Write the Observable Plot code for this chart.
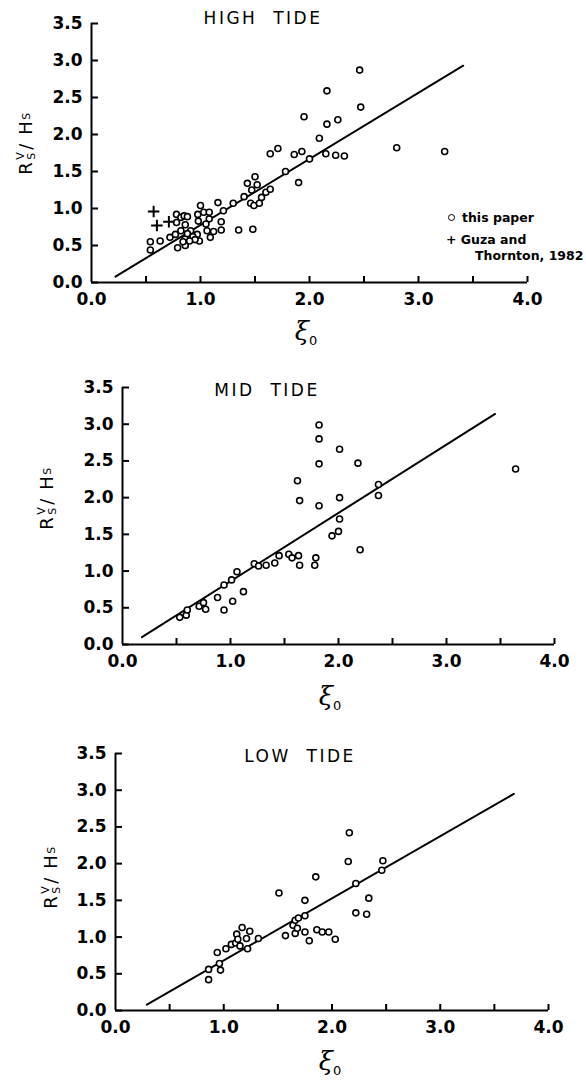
<!DOCTYPE html>
<html><head><meta charset="utf-8">
<script src="https://cdn.jsdelivr.net/npm/d3@7"></script>
<script src="https://cdn.jsdelivr.net/npm/@observablehq/plot@0.6"></script>
<style>
body{margin:0;background:#fff;}
#page{position:relative;width:586px;height:1083px;overflow:hidden;font-family:"DejaVu Sans",sans-serif;color:#000;background:#fff;}
.panel{position:absolute;left:0;}
.title{position:absolute;font-size:17px;letter-spacing:2.5px;white-space:pre;transform:translateX(-50%);line-height:1;}
.ylab{position:absolute;transform:translate(-50%,-50%) rotate(-90deg);font-size:18px;white-space:nowrap;line-height:1;letter-spacing:1.5px;display:flex;align-items:center;}
.st{display:inline-flex;flex-direction:column;font-size:11px;line-height:1;margin:0 1px;}
.ylab sub{font-size:11px;vertical-align:-5px;}
.xlab{position:absolute;transform:translateX(-50%);font-family:"DejaVu Serif",serif;font-style:italic;font-size:26px;line-height:1;white-space:nowrap;}
.xlab sub{font-style:normal;font-family:"DejaVu Sans",sans-serif;font-size:13px;vertical-align:-5px;}
.leg{position:absolute;font-size:12.5px;font-weight:bold;white-space:nowrap;line-height:1;}
.circ{display:inline-block;width:5px;height:5px;border:1.6px solid #000;border-radius:50%;vertical-align:1px;margin-right:7px;}
</style>
</head><body>
<div id="page">
  <div class="title" style="left:263px;top:10px">HIGH  TIDE</div>
  <div class="title" style="left:267px;top:382px">MID  TIDE</div>
  <div class="title" style="left:300px;top:748px">LOW  TIDE</div>
  <div class="ylab" style="left:26px;top:143px">R<span class="st"><span>V</span><span>S</span></span>/ H<sub>S</sub></div>
  <div class="ylab" style="left:47px;top:498px">R<span class="st"><span>V</span><span>S</span></span>/ H<sub>S</sub></div>
  <div class="ylab" style="left:51px;top:877px">R<span class="st"><span>V</span><span>S</span></span>/ H<sub>S</sub></div>
  <div class="xlab" style="left:306px;top:318px">ξ<sub>0</sub></div>
  <div class="xlab" style="left:330px;top:683px">ξ<sub>0</sub></div>
  <div class="xlab" style="left:330px;top:1048px">ξ<sub>0</sub></div>
  <div class="leg" style="left:448px;top:212px"><span class="circ"></span>this paper</div>
  <div class="leg" style="left:446px;top:234px">+ Guza and</div>
  <div class="leg" style="left:475px;top:250px">Thornton, 1982</div>
</div>
<script>
// Tick values
const xTicks = [0.5, 1, 1.5, 2, 2.5, 3, 3.5, 4];
const xLabels = [0, 1, 2, 3, 4];
const yTicks = [0, 0.5, 1, 1.5, 2, 2.5, 3, 3.5];

// HIGH TIDE — this paper
const highX = [0.54,0.54,0.63,0.72,0.78,0.78,0.82,0.85,0.88,0.79,0.77,0.86,0.86,0.86,0.91,0.97,0.99,1.00,0.975,0.98,1.03,1.08,1.08,1.05,1.09,1.06,1.12,1.16,1.21,1.19,1.19,1.30,1.35,1.40,1.43,1.46,1.48,1.47,1.50,1.49,1.52,1.54,1.56,1.60,1.64,1.64,1.71,1.78,1.86,1.90,2.46,2.16,2.47,1.95,2.16,2.26,2.09,1.93,2.00,2.15,2.24,2.32,2.80,3.24,0.88,0.93,0.95,0.90,0.84,0.82];
const highY = [0.55,0.44,0.56,0.61,0.92,0.81,0.88,0.90,0.89,0.47,0.65,0.78,0.59,0.50,0.70,0.65,0.56,1.04,0.92,0.83,0.95,0.95,0.86,0.79,0.61,0.70,0.69,1.08,0.97,0.82,0.71,1.07,0.71,1.16,1.34,1.07,0.72,1.25,1.43,1.04,1.32,1.07,1.15,1.22,1.26,1.74,1.81,1.50,1.73,1.35,2.87,2.59,2.37,2.24,2.14,2.20,1.95,1.77,1.67,1.74,1.72,1.71,1.82,1.77,0.66,0.62,0.58,0.56,0.55,0.70];
// HIGH TIDE — Guza and Thornton, 1982
const guzaX = [0.57, 0.60, 0.71];
const guzaY = [0.96, 0.77, 0.82];
// HIGH TIDE regression line end points
const highLineX = [0.22, 3.41];
const highLineY = [0.08, 2.93];

// MID TIDE
const midX = [0.53,0.59,0.60,0.71,0.75,0.77,0.88,0.94,0.94,1.02,1.01,1.06,1.12,1.22,1.26,1.33,1.41,1.45,1.54,1.57,1.63,1.64,1.79,1.78,1.62,1.64,1.82,1.82,2.01,1.82,2.18,1.82,2.01,2.01,2.00,1.94,2.20,2.37,2.37,3.64];
const midY = [0.37,0.40,0.47,0.52,0.57,0.48,0.64,0.47,0.81,0.59,0.88,0.99,0.72,1.10,1.07,1.08,1.11,1.21,1.23,1.18,1.21,1.08,1.18,1.08,2.23,1.96,2.99,2.80,2.66,2.46,2.47,1.89,2.00,1.71,1.54,1.48,1.29,2.18,2.03,2.39];
const midLineX = [0.18, 3.45];
const midLineY = [0.10, 3.14];

// LOW TIDE
const lowX = [0.86,0.86,0.94,0.96,0.97,1.02,1.07,1.11,1.12,1.13,1.17,1.15,1.21,1.24,1.22,1.32,1.51,1.57,1.64,1.66,1.69,1.75,1.66,1.68,1.75,1.79,1.75,1.85,1.86,1.91,1.97,2.03,2.16,2.15,2.47,2.46,2.22,2.34,2.22,2.32];
const lowY = [0.42,0.56,0.79,0.64,0.55,0.84,0.90,0.92,1.04,0.97,1.13,0.88,0.98,1.08,0.84,0.98,1.60,1.02,1.16,1.23,1.26,1.29,1.05,1.12,1.07,0.95,1.50,1.82,1.10,1.07,1.07,0.97,2.42,2.03,2.04,1.91,1.73,1.53,1.33,1.31];
const lowLineX = [0.29, 3.68];
const lowLineY = [0.08, 2.95];

const zip = (xs, ys) => xs.map((x, i) => ({x, y: ys[i]}));

function panel({pts, plus, line, top, height, mt, mb, ml, mr}) {
  const W = 586 - ml - mr, H = height - mt - mb;
  const marks = [
    Plot.ruleX([0], {y1: 0, y2: 3.5, strokeWidth: 2}),
    Plot.ruleY([0], {x1: 0, x2: 4, strokeWidth: 2}),
    // inward ticks: full-frame rules trimmed by insets to a short stub
    Plot.ruleY(yTicks, {insetRight: W - 7, strokeWidth: 2}),
    Plot.ruleX(xTicks, {insetTop: H - 6, strokeWidth: 2}),
    Plot.axisY({ticks: yTicks, tickSize: 0, tickPadding: 9, label: null,
      tickFormat: d => d.toFixed(1), fontSize: 17, fontWeight: "bold"}),
    Plot.axisX({ticks: xLabels, tickSize: 0, tickPadding: 10, label: null,
      tickFormat: d => d.toFixed(1), fontSize: 17, fontWeight: "bold"}),
    Plot.line(line, {x: "x", y: "y", strokeWidth: 2, stroke: "black"}),
    Plot.dot(pts, {x: "x", y: "y", r: 3, stroke: "black", strokeWidth: 1.6, fill: "white"})
  ];
  if (plus) marks.push(Plot.dot(plus, {x: "x", y: "y", symbol: "plus", r: 3.8, stroke: "black", strokeWidth: 2}));
  const svg = Plot.plot({
    width: 586, height,
    marginTop: mt, marginBottom: mb, marginLeft: ml, marginRight: mr,
    x: {domain: [0, 4], label: null},
    y: {domain: [0, 3.5], label: null},
    style: {background: "transparent", fontFamily: "DejaVu Sans, sans-serif", overflow: "visible"},
    marks
  });
  svg.classList.add("panel");
  svg.style.top = top + "px";
  document.getElementById("page").appendChild(svg);
}

panel({pts: zip(highX, highY), plus: zip(guzaX, guzaY), line: zip(highLineX, highLineY),
  top: 0, height: 310, mt: 23, mb: 28, ml: 91, mr: 59});
panel({pts: zip(midX, midY), line: zip(midLineX, midLineY),
  top: 360, height: 320, mt: 27, mb: 36, ml: 122, mr: 32});
panel({pts: zip(lowX, lowY), line: zip(lowLineX, lowLineY),
  top: 725, height: 320, mt: 28, mb: 35, ml: 115, mr: 38});
</script>
</body></html>
